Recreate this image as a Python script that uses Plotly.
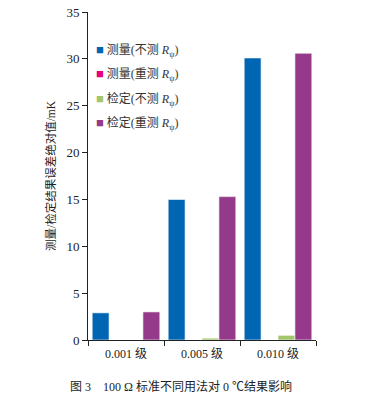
import plotly.graph_objects as go

categories = ["0.001 级", "0.005 级", "0.010 级"]
series_names = [
    "测量(不测 <i>R</i><sub>ψ</sub>)",
    "测量(重测 <i>R</i><sub>ψ</sub>)",
    "检定(不测 <i>R</i><sub>ψ</sub>)",
    "检定(重测 <i>R</i><sub>ψ</sub>)",
]
meas_no = [2.9, 15.0, 30.1]
meas_re = [0.0, 0.0, 0.0]
cal_no = [0.0, 0.2, 0.5]
cal_re = [3.0, 15.3, 30.6]
colors = ["#0066b3", "#e4007f", "#a3c56b", "#953a8b"]
y_ticks = [0, 5, 10, 15, 20, 25, 30, 35]

FONT = "Liberation Serif, Noto Sans CJK SC, serif"

fig = go.Figure()
for i, (name, vals) in enumerate(zip(series_names, [meas_no, meas_re, cal_no, cal_re])):
    fig.add_trace(go.Bar(
        x=categories, y=vals, name=name, showlegend=False,
        marker=dict(color=colors[i], line=dict(color="white", width=0.6)),
    ))

# custom legend (square + label) as annotations
legend_annots = []
for i, name in enumerate(series_names):
    legend_annots.append(dict(
        text=f"<span style='color:{colors[i]};font-size:13px'>■</span> {name}",
        xref="paper", yref="paper", x=0.025, y=0.884 - i * 0.075,
        xanchor="left", yanchor="middle", showarrow=False,
        font=dict(family=FONT, size=12, color="#333"),
    ))

fig.update_layout(
    width=382, height=400,
    margin=dict(l=88, r=66, t=12, b=60),
    plot_bgcolor="white", paper_bgcolor="white",
    barmode="group", bargap=0.11, bargroupgap=0.0,
    font=dict(family=FONT, size=12, color="#222"),
    showlegend=False,
    xaxis=dict(
        type="category", range=[-0.5, 2.5], automargin=False,
        showline=True, linecolor="#222", linewidth=1,
        ticks="outside", ticklen=5, tickcolor="#222", tickson="boundaries",
        tickfont=dict(family=FONT, size=12, color="#222"),
        ticklabelstandoff=3, ticklabeloverflow="allow",
        showgrid=False, zeroline=False,
    ),
    yaxis=dict(
        range=[0, 35], tickvals=y_ticks, automargin=False,
        showline=True, linecolor="#222", linewidth=1,
        ticks="outside", ticklen=5, tickcolor="#222",
        tickfont=dict(family=FONT, size=13, color="#222"),
        ticklabeloverflow="allow",
        showgrid=False, zeroline=False,
        title=dict(text="测量/检定结果误差绝对值/mK", standoff=8,
                   font=dict(family=FONT, size=11.5, color="#222")),
    ),
    annotations=legend_annots + [dict(
        text="图 3　100 Ω 标准不同用法对 0 ℃结果影响",
        xref="paper", yref="paper", x=0.41, y=-0.143,
        xanchor="center", yanchor="middle", showarrow=False,
        font=dict(family=FONT, size=12, color="#222"),
    )],
)

fig.write_html(
    "out.html",
    config={"displayModeBar": False},
    post_script="document.body.style.margin='0';document.body.style.overflow='hidden';",
)
